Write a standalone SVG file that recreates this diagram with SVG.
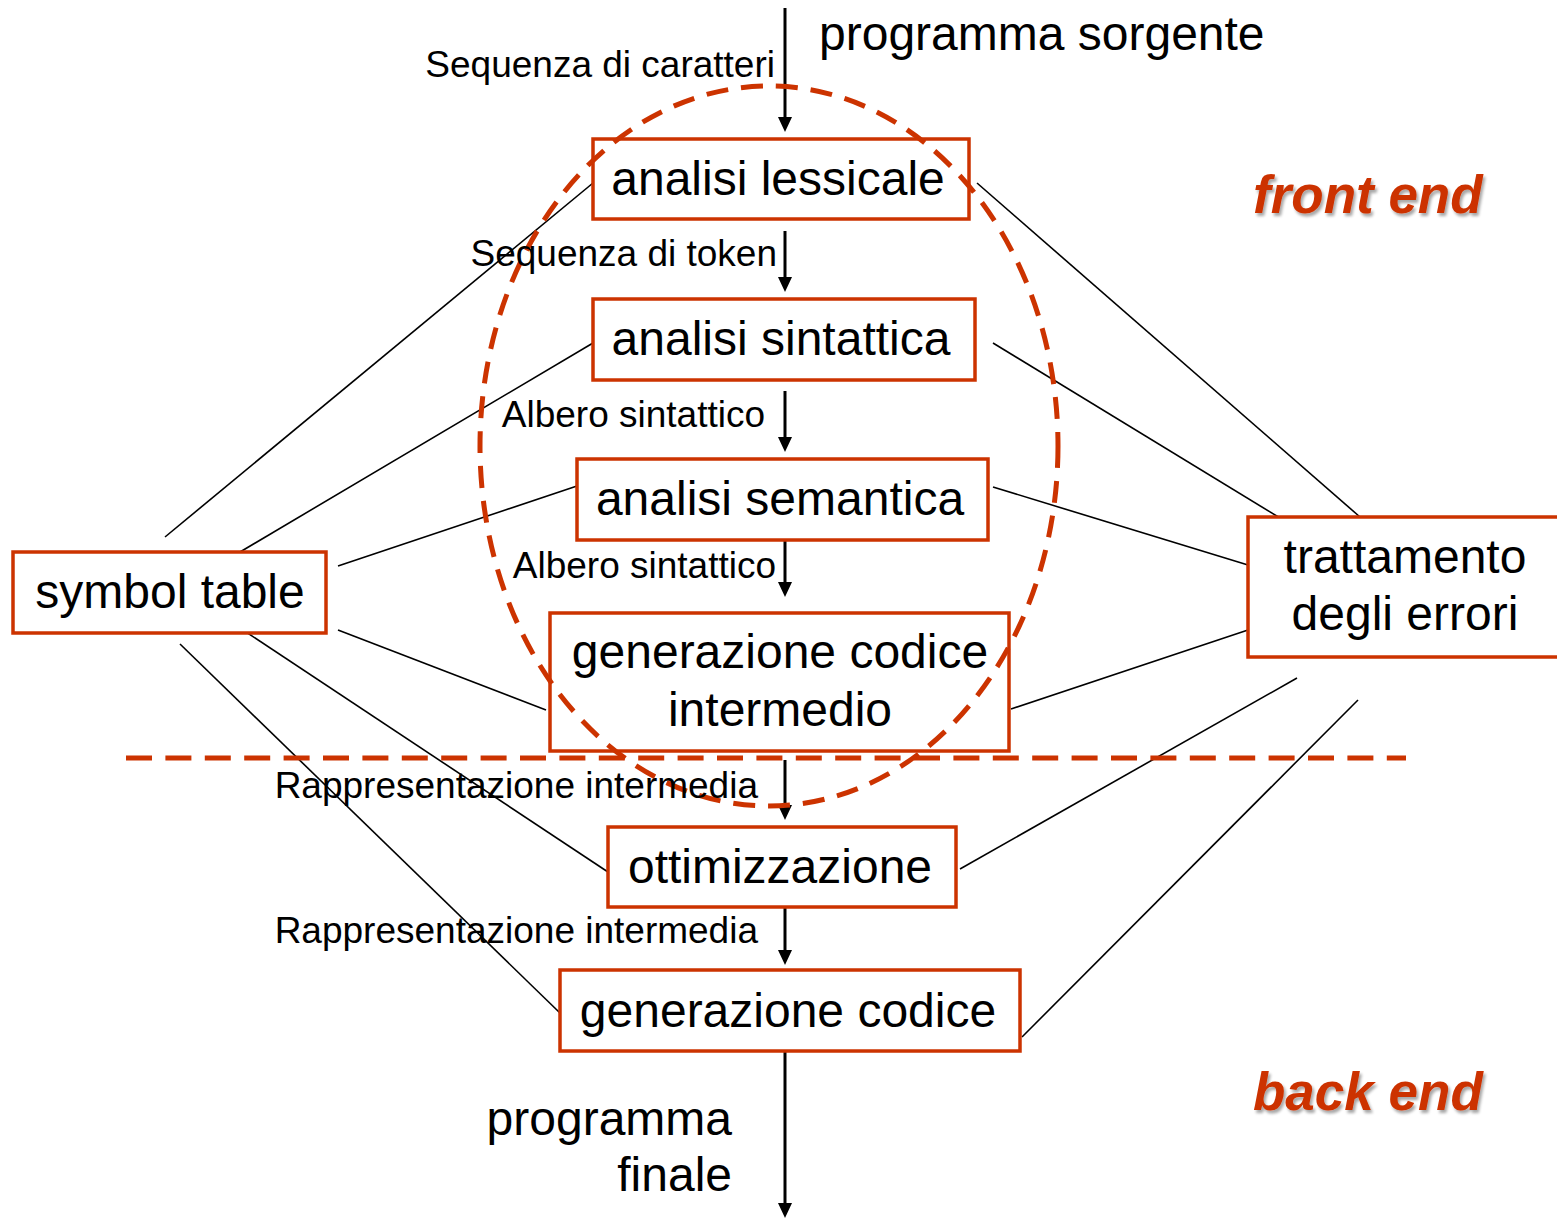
<svg xmlns="http://www.w3.org/2000/svg" width="1557" height="1219" viewBox="0 0 1557 1219">
<defs>
<marker id="ah" markerWidth="15" markerHeight="14" refX="5" refY="7" orient="auto" markerUnits="userSpaceOnUse" viewBox="0 0 15 14">
<path d="M0,0 L15,7 L0,14 Z" fill="#000"/>
</marker>
<filter id="sh" x="-10%" y="-10%" width="130%" height="140%">
<feGaussianBlur in="SourceAlpha" stdDeviation="1.5"/>
<feOffset dx="2" dy="3" result="b"/>
<feComponentTransfer><feFuncA type="linear" slope="0.35"/></feComponentTransfer>
<feMerge><feMergeNode/><feMergeNode in="SourceGraphic"/></feMerge>
</filter>
</defs>
<style>
.box{fill:#fff;stroke:#CC3300;stroke-width:3.5}
.big{font-family:"Liberation Sans",Arial,sans-serif;font-size:48px;fill:#000}
.small{font-family:"Liberation Sans",Arial,sans-serif;font-size:37px;fill:#000}
.title{font-family:"Liberation Sans",Arial,sans-serif;font-size:53px;font-weight:bold;font-style:italic;fill:#CC3300}
.flow{stroke:#000;stroke-width:3;fill:none}
.link{stroke:#000;stroke-width:1.6;fill:none}
.dash{stroke:#CC3300;stroke-width:5;fill:none}
</style>
<rect width="1557" height="1219" fill="#fff"/>

<g id="connectors">
<line class="link" x1="165" y1="537" x2="593" y2="183"/>
<line class="link" x1="240" y1="552" x2="593" y2="343"/>
<line class="link" x1="338" y1="566" x2="577" y2="486"/>
<line class="link" x1="338" y1="630" x2="546" y2="710"/>
<line class="link" x1="240" y1="628" x2="608" y2="872"/>
<line class="link" x1="180" y1="644" x2="560" y2="1013"/>
<line class="link" x1="977" y1="183" x2="1360" y2="517"/>
<line class="link" x1="993" y1="343" x2="1280" y2="518"/>
<line class="link" x1="993" y1="487" x2="1248" y2="565"/>
<line class="link" x1="1011" y1="709" x2="1248" y2="630"/>
<line class="link" x1="960" y1="869" x2="1297" y2="678"/>
<line class="link" x1="1022" y1="1037" x2="1358" y2="700"/>
<line class="flow" x1="785" y1="8" x2="785" y2="122" marker-end="url(#ah)"/>
<line class="flow" x1="785" y1="231" x2="785" y2="282" marker-end="url(#ah)"/>
<line class="flow" x1="785" y1="391" x2="785" y2="442" marker-end="url(#ah)"/>
<line class="flow" x1="785" y1="535" x2="785" y2="587" marker-end="url(#ah)"/>
<line class="flow" x1="785" y1="760" x2="785" y2="810" marker-end="url(#ah)"/>
<line class="flow" x1="785" y1="903" x2="785" y2="955" marker-end="url(#ah)"/>
<line class="flow" x1="785" y1="1047" x2="785" y2="1208" marker-end="url(#ah)"/>
</g>

<g id="lessicale"><rect class="box" x="593" y="139" width="376" height="80"/><text class="big" x="778" y="195" text-anchor="middle">analisi lessicale</text></g>
<g id="sintattica"><rect class="box" x="593" y="299" width="382" height="81"/><text class="big" x="781" y="355" text-anchor="middle">analisi sintattica</text></g>
<g id="semantica"><rect class="box" x="577" y="459" width="411" height="81"/><text class="big" x="780" y="515" text-anchor="middle">analisi semantica</text></g>
<g id="intermedio"><rect class="box" x="550" y="613" width="459" height="138"/><text class="big" x="780" y="668" text-anchor="middle">generazione codice</text><text class="big" x="780" y="726" text-anchor="middle">intermedio</text></g>
<g id="ottimizzazione"><rect class="box" x="608" y="827" width="348" height="80"/><text class="big" x="780" y="883" text-anchor="middle">ottimizzazione</text></g>
<g id="generazione"><rect class="box" x="560" y="970" width="460" height="81"/><text class="big" x="788" y="1027" text-anchor="middle">generazione codice</text></g>
<g id="symbol"><rect class="box" x="13" y="552" width="313" height="81"/><text class="big" x="170" y="608" text-anchor="middle">symbol table</text></g>
<g id="errori"><rect class="box" x="1248" y="517" width="312" height="140"/><text class="big" x="1405" y="573" text-anchor="middle">trattamento</text><text class="big" x="1405" y="630" text-anchor="middle">degli errori</text></g>

<g id="dashed">
<ellipse class="dash" cx="769" cy="446" rx="289" ry="360" stroke-dasharray="22 13"/>
<line class="dash" x1="126" y1="758" x2="1406" y2="758" stroke-dasharray="26 13.4"/>
</g>

<g id="labels">
<text class="big" x="819" y="50">programma sorgente</text>
<text class="small" x="775" y="77" text-anchor="end">Sequenza di caratteri</text>
<text class="small" x="777" y="266" text-anchor="end">Sequenza di token</text>
<text class="small" x="765" y="427" text-anchor="end">Albero sintattico</text>
<text class="small" x="776" y="578" text-anchor="end">Albero sintattico</text>
<text class="small" x="758" y="798" text-anchor="end">Rappresentazione intermedia</text>
<text class="small" x="758" y="943" text-anchor="end">Rappresentazione intermedia</text>
<text class="big" x="732" y="1135" text-anchor="end">programma</text>
<text class="big" x="732" y="1191" text-anchor="end">finale</text>
<text class="title" x="1253" y="213" filter="url(#sh)">front end</text>
<text class="title" x="1253" y="1110" filter="url(#sh)">back end</text>
</g>
</svg>
